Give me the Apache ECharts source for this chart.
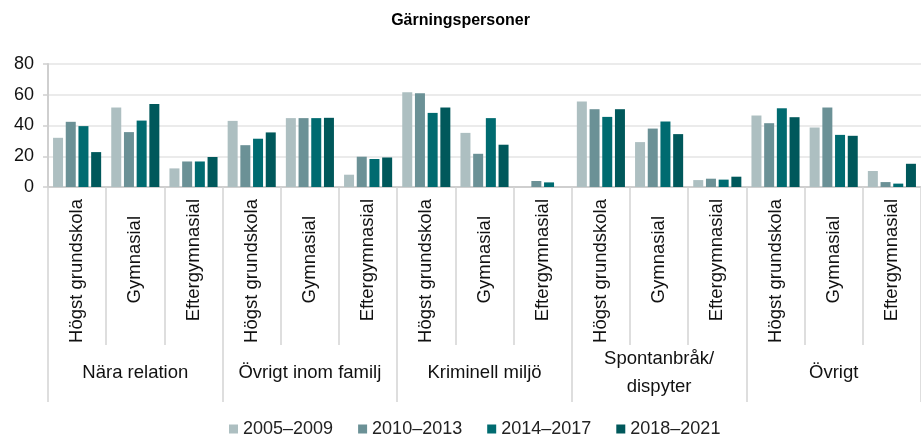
<!DOCTYPE html>
<html>
<head>
<meta charset="utf-8">
<script src="https://cdn.jsdelivr.net/npm/echarts@6/dist/echarts.min.js"></script>
<style>
  html, body { margin: 0; padding: 0; background: #fff; }
  #chart { width: 921px; height: 445px; }
</style>
</head>
<body>
<div id="chart"></div>
<script>
  // kategorier
  const groups = ['Nära relation', 'Övrigt inom familj', 'Kriminell miljö', 'Spontanbråk/\ndispyter', 'Övrigt']
  const levels = ['Högst grundskola', 'Gymnasial', 'Eftergymnasial']
  const periods = ['2005–2009', '2010–2013', '2014–2017', '2018–2021']
  const yTicks = [0, 20, 40, 60, 80]

  // värden per period, ordning: grupp x utbildningsnivå
  const p2005 = [32, 51.7, 12.1, 43, 44.8, 8, 61.6, 35.2, 0, 55.6, 29.2, 4.5, 46.5, 38.7, 10.4]
  const p2010 = [42.4, 35.7, 16.6, 27.2, 44.8, 19.7, 61, 21.6, 3.9, 50.6, 38, 5.4, 41.5, 51.7, 3.2]
  const p2014 = [39.6, 43.2, 16.6, 31.4, 44.8, 18.2, 48.2, 44.8, 3, 45.6, 42.6, 4.8, 51.2, 33.9, 2.2]
  const p2018 = [22.7, 54, 19.5, 35.5, 45, 19.2, 51.7, 27.5, 0, 50.6, 34.4, 6.7, 45.4, 33.3, 15.1]

  const colors = ['#adbfc1', '#6b9196', '#006b70', '#00585b']
  const font = 'Liberation Sans, Arial, sans-serif'

  let categories = []
  groups.forEach(() => { levels.forEach(l => categories.push(l)) })

  const seriesValues = [p2005, p2010, p2014, p2018]

  let chart = echarts.init(document.getElementById('chart'))
  chart.setOption({
    animation: false,
    color: colors,
    textStyle: { fontFamily: font },
    title: {
      text: 'Gärningspersoner',
      left: 'center',
      top: 8,
      textStyle: { fontSize: 16, fontWeight: 'bold', color: '#000', fontFamily: font }
    },
    legend: {
      data: periods,
      bottom: 2,
      left: 224,
      icon: 'rect',
      itemWidth: 9,
      itemHeight: 9,
      itemGap: 25,
      textStyle: { fontSize: 18, color: '#222', fontFamily: font }
    },
    grid: { left: 48, right: 0, top: 64, bottom: 258 },
    xAxis: [
      {
        type: 'category',
        data: categories,
        axisLine: { lineStyle: { color: '#cfcfcf', width: 2 } },
        axisTick: { show: true, interval: 0, length: 158, lineStyle: { color: '#d4d4d4', width: 1.5 } },
        axisLabel: {
          interval: 0,
          rotate: 90,
          margin: 12,
          fontSize: 18.5,
          color: '#111',
          fontFamily: font,
          formatter: function (v) { return v === 'Gymnasial' ? '{g|' + v + '}' : v },
          rich: { g: { fontSize: 18.5, color: '#111', fontFamily: font, padding: [0, 17, 0, 0] } }
        }
      },
      {
        type: 'category',
        data: groups,
        position: 'bottom',
        axisLine: { show: false },
        axisTick: { show: true, interval: 0, length: 215, lineStyle: { color: '#d4d4d4', width: 1.5 } },
        axisLabel: {
          interval: 0,
          margin: 186,
          verticalAlign: 'middle',
          lineHeight: 28,
          fontSize: 18.5,
          color: '#111',
          fontFamily: font
        }
      }
    ],
    yAxis: {
      type: 'value',
      min: yTicks[0],
      max: yTicks[yTicks.length - 1],
      interval: 20,
      axisLine: { show: true, lineStyle: { color: '#cfcfcf', width: 2 } },
      axisTick: { show: true, length: 5, lineStyle: { color: '#cfcfcf', width: 1.5 } },
      axisLabel: { fontSize: 18, color: '#111', margin: 14, fontFamily: font },
      splitLine: { lineStyle: { color: '#ebebeb', width: 2 } }
    },
    series: periods.map((name, i) => ({
      name: name,
      type: 'bar',
      xAxisIndex: 0,
      barWidth: 10,
      barGap: '27%',
      data: seriesValues[i]
    }))
  })
</script>
</body>
</html>
